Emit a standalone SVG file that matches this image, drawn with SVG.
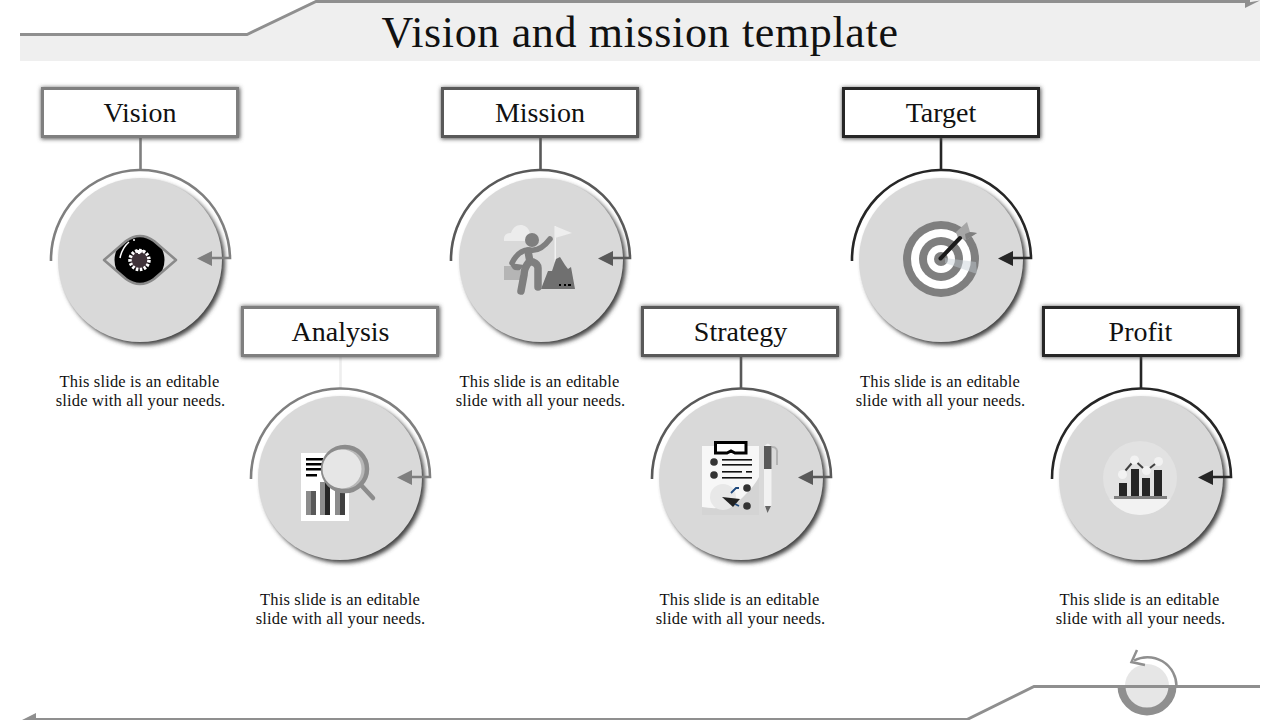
<svg xmlns="http://www.w3.org/2000/svg" width="1280" height="720" viewBox="0 0 1280 720">
<style>
text{font-family:"Liberation Serif","Times New Roman",serif;fill:#111;text-anchor:middle}
.title{font-size:44px;letter-spacing:.65px}
.head{font-size:28px}
.desc{font-size:16.5px;letter-spacing:.16px}
.box{fill:#fff;stroke-width:3}
.halo{fill:#555}
.disc{fill:#d9d9d9}
.arc{fill:none;stroke-width:2.600}
.stem{stroke-width:2.600;fill:none}
.g1{stroke:#7f7f7f}.g2{stroke:#595959}.g3{stroke:#262626}
.f1{fill:#7f7f7f}.f2{fill:#595959}.f3{fill:#262626}
.frame{fill:none;stroke:#8f8f8f;stroke-width:3}
</style>
<defs>
<filter id="ds" x="-20%" y="-20%" width="140%" height="140%"><feGaussianBlur stdDeviation="2"/></filter>
<filter id="bs" x="-10%" y="-30%" width="120%" height="160%"><feGaussianBlur stdDeviation="2"/></filter>
<clipPath id="lower"><rect x="1100" y="686" width="100" height="34"/></clipPath>
<clipPath id="papr"><rect x="702" y="446" width="57" height="69"/></clipPath>
<clipPath id="bowl"><circle cx="1140" cy="478" r="37"/></clipPath>
<clipPath id="almond"><path d="M104,260 L126,241 Q140,231 154,241 L176,260 L154,279 Q140,289 126,279Z"/></clipPath>
</defs>

<g id="header">
<polygon points="20,34 247,34 316,0 1260,0 1260,61 20,61" fill="#efefef"/>
<polyline class="frame" points="20,34.500 247,34.500 316,1.500 1250,1.500"/>
<polygon points="1245,3 1260,0.500 1245,8" fill="#8f8f8f"/>
<text class="title" x="640" y="47">Vision and mission template</text>
</g>

<g id="footer">
<polyline class="frame" points="30,719.500 967,719.500 1034,686.500 1260,686.500"/>
<polygon points="36,713 36,720 22,720" fill="#8f8f8f"/>
<circle cx="1147" cy="686" r="22" fill="#e6e6e6"/>
<circle cx="1147" cy="686" r="25.500" fill="none" stroke="#8f8f8f" stroke-width="8" clip-path="url(#lower)"/>
<line x1="1117" y1="686.500" x2="1177" y2="686.500" stroke="#8f8f8f" stroke-width="3"/>
<path d="M1176.500,686 A29,29 0 0 0 1134,660.500" fill="none" stroke="#8f8f8f" stroke-width="2.500"/>
<polyline points="1137,650 1131.500,662 1145,665" fill="none" stroke="#8f8f8f" stroke-width="2.500"/>
</g>

<g id="connectors">
<line class="stem g1" x1="140.500" y1="138" x2="140.500" y2="171"/>
<line class="stem" stroke="#eeeeee" x1="340.500" y1="356" x2="340.500" y2="389"/>
<line class="stem g2" x1="540.500" y1="138" x2="540.500" y2="171"/>
<line class="stem g2" x1="741" y1="356" x2="741" y2="389"/>
<line class="stem g3" x1="941" y1="138" x2="941" y2="171"/>
<line class="stem g3" x1="1141" y1="356" x2="1141" y2="389"/>
</g>

<g id="node-vision">
<rect class="halo" x="41" y="87.500" width="199" height="51.500" filter="url(#bs)"/>
<rect class="box g1" x="42.500" y="88.500" width="195" height="48"/>
<text class="head" x="140" y="122">Vision</text>
<circle cx="143" cy="263" r="82" fill="#444" filter="url(#ds)"/>
<circle class="disc" cx="140" cy="260" r="82"/>
<path class="arc g1" d="M51,261 A89.500,89.500 0 0 1 230,258 L205,258"/>
<polygon class="f1" points="197,258.500 212,251 212,266"/>
<circle cx="139.500" cy="260" r="25" fill="#000" clip-path="url(#almond)"/>
<path d="M104,260 L126,241 Q140,231 154,241 L176,260 L154,279 Q140,289 126,279Z" fill="none" stroke="#8a8a8a" stroke-width="2.500" stroke-linejoin="round"/>
<circle cx="139.500" cy="260" r="9.500" fill="#3f3339" stroke="#fff" stroke-width="3.500" stroke-dasharray="2.500 1.500"/>
<path d="M135,250 L139,254 L144,250" fill="#fff" stroke="#fff"/>
<path d="M120,258 Q122,248 129,242" fill="none" stroke="#fff" stroke-width="1.500"/>
<circle cx="134" cy="240" r="1" fill="#fff"/>
<text class="desc" x="139.500" y="387">This slide is an editable</text>
<text class="desc" x="140.500" y="406">slide with all your needs.</text>
</g>

<g id="node-analysis">
<rect class="halo" x="241" y="306" width="199" height="51.500" filter="url(#bs)"/>
<rect class="box g1" x="242.500" y="307.500" width="195" height="48"/>
<text class="head" x="340.500" y="341">Analysis</text>
<circle cx="343" cy="481" r="82" fill="#444" filter="url(#ds)"/>
<circle class="disc" cx="340" cy="478" r="82"/>
<path class="arc g1" d="M251,479 A89.500,89.500 0 0 1 430,477 L405,477"/>
<polygon class="f1" points="397,477.500 412,470 412,485"/>
<rect x="301" y="453" width="48" height="68" fill="#fff"/>
<g fill="#000"><rect x="306" y="458" width="17" height="2.500"/><rect x="306" y="463" width="17" height="2.500"/><rect x="306" y="468" width="17" height="2.500"/><rect x="306" y="474" width="11" height="2.500"/></g>
<rect x="306" y="491" width="5" height="24" fill="#8c8c8c"/><rect x="311" y="491" width="5" height="24" fill="#595959"/>
<rect x="320" y="482" width="5" height="33" fill="#8c8c8c"/><rect x="325" y="482" width="5" height="33" fill="#262626"/>
<rect x="335" y="491" width="5" height="24" fill="#8c8c8c"/><rect x="340" y="491" width="5" height="24" fill="#404040"/>
<line x1="361" y1="485" x2="373" y2="498" stroke="#8c8c8c" stroke-width="4.500" stroke-linecap="round"/>
<circle cx="345" cy="469" r="22" fill="#b8b8b8" stroke="#8c8c8c" stroke-width="4.500"/>
<circle cx="342" cy="469" r="19.500" fill="#e6e6e6"/>
<text class="desc" x="340" y="605">This slide is an editable</text>
<text class="desc" x="340.500" y="624">slide with all your needs.</text>
</g>

<g id="node-mission">
<rect class="halo" x="441" y="87.500" width="199" height="51.500" filter="url(#bs)"/>
<rect class="box g2" x="442.500" y="88.500" width="195" height="48"/>
<text class="head" x="540" y="122">Mission</text>
<circle cx="544" cy="263" r="82" fill="#444" filter="url(#ds)"/>
<circle class="disc" cx="541" cy="260" r="82"/>
<path class="arc g2" d="M451,261 A89.500,89.500 0 0 1 630,258 L605,258"/>
<polygon class="f2" points="598,258.500 613,251 613,266"/>
<path d="M504,241 Q503,233 511,233 Q514,224 522,225 Q528,226 530,233 Q534,233 534,241Z" fill="#ececec"/>
<path d="M504,266 H520 V280 H504Z" fill="#b5b5b5"/>
<path d="M510,263 Q512,272 520,270 L524,265Z" fill="#7f7f7f"/>
<rect x="554.500" y="226" width="1.500" height="36" fill="#f2f2f2"/>
<polygon points="555,226 572,233 555,238" fill="#eeeeee"/>
<polygon points="541,289 548,271 552,271 556,259 560,257 565,265 568,269 571,267 575,289" fill="#707070"/>
<g fill="#000"><rect x="559" y="284" width="2" height="2"/><rect x="564" y="284" width="2" height="2"/><rect x="568" y="284" width="3" height="2"/></g>
<circle cx="532" cy="240" r="7" fill="#7f7f7f"/>
<path d="M512,263 Q519,249 530,250 Q540,252 550,239" fill="none" stroke="#7f7f7f" stroke-width="5.500" stroke-linecap="round"/>
<path d="M528,251 L530,262 H533 Q538,264 538,268 L538,287 M529,262 Q524,268 524,275 L521,291" fill="none" stroke="#7f7f7f" stroke-width="7.500" stroke-linecap="round"/>
<text class="desc" x="539.500" y="387">This slide is an editable</text>
<text class="desc" x="540.500" y="406">slide with all your needs.</text>
</g>

<g id="node-strategy">
<rect class="halo" x="641" y="306" width="199" height="51.500" filter="url(#bs)"/>
<rect class="box g2" x="642.500" y="307.500" width="195" height="48"/>
<text class="head" x="740.500" y="341">Strategy</text>
<circle cx="744" cy="481" r="82" fill="#444" filter="url(#ds)"/>
<circle class="disc" cx="741" cy="478" r="82"/>
<path class="arc g2" d="M652,479 A89.500,89.500 0 0 1 831,477 L806,477"/>
<polygon class="f2" points="798,477.500 813,470 813,485"/>
<rect x="702" y="446" width="57" height="69" fill="#f7f7f7"/>
<path d="M702,507 Q730,512 745,495 Q755,485 759,477 V515 H702Z" fill="#d4d4d4"/>
<circle cx="723" cy="497" r="13" fill="#e8e8e8" clip-path="url(#papr)"/>
<path d="M715.500,442.500 H746 V453 H735 L731,451 L727,453 H715.500Z" fill="#fff" stroke="#000" stroke-width="3"/>
<g fill="#333"><circle cx="714" cy="462" r="3.800"/><circle cx="714" cy="475" r="3.800"/><circle cx="747" cy="488" r="3.800"/><circle cx="747" cy="506" r="3.800"/></g>
<g fill="#111"><rect x="722" y="459" width="30" height="1.600"/><rect x="722" y="464" width="30" height="1.600"/><rect x="722" y="471" width="20" height="1.600"/><rect x="746" y="471" width="6" height="1.600"/><rect x="722" y="477" width="30" height="1.600"/></g>
<polygon points="722,497 740,499 733,507" fill="#222"/>
<path d="M731,493 L736,488 H739 M735,504 L739,506" fill="none" stroke="#1f497d" stroke-width="1.800"/>
<path d="M772,447 Q778,447 777,454 V465" fill="none" stroke="#b3b3b3" stroke-width="2"/>
<path d="M764,447 Q768,440 771.500,447 V505 L767.500,513 L764,505Z" fill="#f2f2f2"/>
<rect x="764" y="446" width="7.500" height="23" fill="#595959"/>
<polygon points="765,506 771,506 767.500,513" fill="#666"/>
<text class="desc" x="739.500" y="605">This slide is an editable</text>
<text class="desc" x="740.500" y="624">slide with all your needs.</text>
</g>

<g id="node-target">
<rect class="halo" x="842" y="87.500" width="199" height="51.500" filter="url(#bs)"/>
<rect class="box g3" x="843.500" y="88.500" width="195" height="48"/>
<text class="head" x="941" y="122">Target</text>
<circle cx="944" cy="263" r="82" fill="#444" filter="url(#ds)"/>
<circle class="disc" cx="941" cy="260" r="82"/>
<path class="arc g3" d="M852,261 A89.500,89.500 0 0 1 1031,258 L1006,258"/>
<polygon class="f3" points="998,258.500 1013,251 1013,266"/>
<circle cx="941" cy="259" r="38" fill="#7f7f7f"/>
<circle cx="941" cy="259" r="30" fill="#fff"/>
<circle cx="941" cy="259" r="22" fill="#7f7f7f"/>
<circle cx="941" cy="259" r="14" fill="#fff"/>
<circle cx="941" cy="259" r="7" fill="#7f7f7f"/>
<polygon points="945,258 976,262 977,274 945,263" fill="#c5cfd4" opacity=".45"/>
<polygon points="956,232 967,222 970,232 977,233 966,240 958,238" fill="#a6a6a6"/>
<polygon points="966,240 977,233 970,232 965,234" fill="#7f7f7f"/>
<line x1="940.500" y1="258.500" x2="960" y2="238" stroke="#1a1a1a" stroke-width="4" stroke-linecap="round"/>
<text class="desc" x="940" y="387">This slide is an editable</text>
<text class="desc" x="940.500" y="406">slide with all your needs.</text>
</g>

<g id="node-profit">
<rect class="halo" x="1042" y="306" width="199" height="51.500" filter="url(#bs)"/>
<rect class="box g3" x="1043.500" y="307.500" width="195" height="48"/>
<text class="head" x="1140.500" y="341">Profit</text>
<circle cx="1144" cy="481" r="82" fill="#444" filter="url(#ds)"/>
<circle class="disc" cx="1141" cy="478" r="82"/>
<path class="arc g3" d="M1052,479 A89.500,89.500 0 0 1 1231,477 L1206,477"/>
<polygon class="f3" points="1198,477.500 1213,470 1213,485"/>
<circle cx="1140" cy="478" r="37" fill="#e2e2e2"/>
<rect x="1100" y="499" width="80" height="20" fill="#f2f2f2" clip-path="url(#bowl)"/>
<rect x="1114" y="496" width="53" height="3" fill="#7f7f7f"/>
<g fill="#262626"><rect x="1119" y="483" width="8" height="13"/><rect x="1131" y="469" width="8" height="27"/><rect x="1142" y="478" width="8" height="18"/><rect x="1154" y="470" width="8" height="26"/></g>
<g fill="#f2f2f2"><circle cx="1122.500" cy="474.500" r="4.500"/><circle cx="1134.500" cy="460" r="4.500"/><circle cx="1146.500" cy="470.500" r="4.500"/><circle cx="1158.500" cy="461.500" r="4.500"/></g>
<g stroke="#404040" stroke-width="2" fill="none"><line x1="1125.500" y1="470.500" x2="1131.500" y2="463.500"/><line x1="1137.500" y1="463" x2="1143" y2="468"/><line x1="1150" y1="468" x2="1155" y2="464"/></g>
<text class="desc" x="1139.500" y="605">This slide is an editable</text>
<text class="desc" x="1140.500" y="624">slide with all your needs.</text>
</g>
</svg>
